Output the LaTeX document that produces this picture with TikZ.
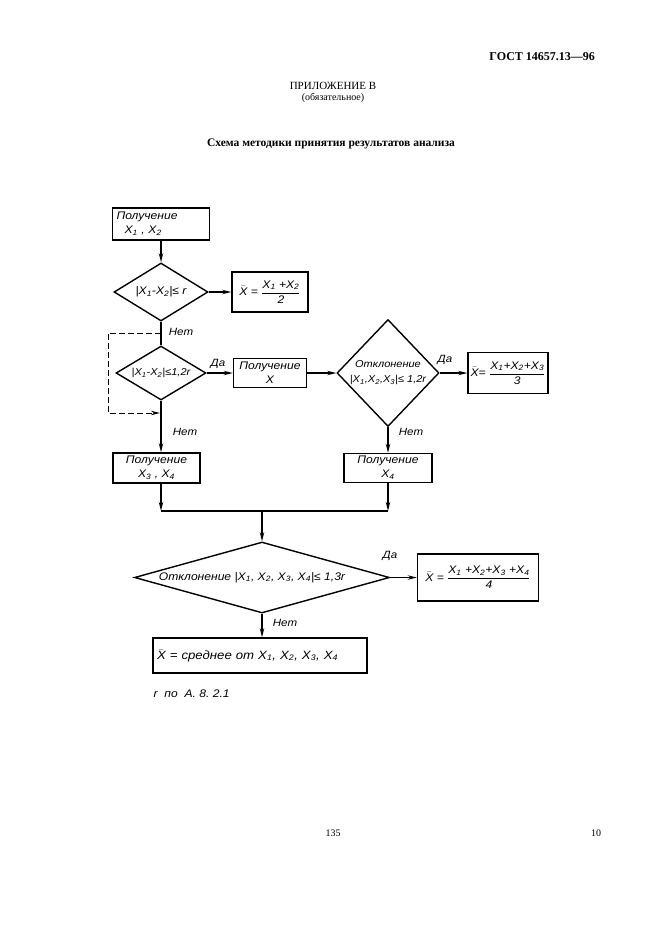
\documentclass[tikz,border=0pt]{standalone}
\usepackage{fontspec}
\setmainfont{Liberation Serif}
\newfontfamily\gost[FakeStretch=1.1]{Liberation Sans}
\usetikzlibrary{shapes.geometric,arrows.meta}
\newcommand{\xb}{$\bar{\mbox{X}}$}
\newcommand{\frc}[2]{$\displaystyle\frac{\mbox{#1}}{\mbox{#2}}$}
\newcommand{\dt}[1]{\makebox[0pt]{#1}}
\newcommand{\X}[1]{X\textsubscript{#1}}

\begin{document}
\begin{tikzpicture}[x=1pt,y=-1pt,line width=1.4pt,>={Stealth[length=9pt,width=4.4pt]},
  blk/.style={draw,inner sep=2pt,align=center,font={\gost\itshape\fontsize{11}{14}\selectfont}},
  dia/.style={draw,diamond,inner sep=0pt,font={\gost\itshape\fontsize{11}{14}\selectfont}},
  lbl/.style={inner sep=1pt,font={\gost\itshape\fontsize{10.5}{12}\selectfont}}]
\useasboundingbox (0,0) rectangle (661,936);
\node[anchor=east,font={\bfseries\fontsize{12}{14}\selectfont}] (gost) at (599,57) {ГОСТ 14657.13—96};
\node[font={\fontsize{11}{13}\selectfont}] (pril) at (333,86) {ПРИЛОЖЕНИЕ В};
\node[font={\fontsize{10}{12}\selectfont}] (obyaz) at (333,98) {(обязательное)};
\node[font={\bfseries\fontsize{11.5}{13}\selectfont}] (title) at (331,144) {Схема методики принятия результатов анализа};
\node[blk,minimum width=97,minimum height=32,text width=89,align=left] (b1) at (161,224) {Получение\\\hspace*{8pt}\X{1} , \X{2}};
\node[dia,minimum width=94,minimum height=58] (d1) at (161,292) {\dt{|\X{1}-\X{2}|≤ r}};
\node[blk,minimum width=76,minimum height=40] (b2) at (270,292) {\xb{} = \frc{\X{1} +\X{2}}{2}};
\node[dia,minimum width=90,minimum height=54,font={\gost\itshape\fontsize{10}{12}\selectfont}] (d2) at (161,373) {\dt{|\X{1}-\X{2}|≤1,2r}};
\node[blk,minimum width=73,minimum height=29] (b3) at (270,373) {Получение\\X};
\node[dia,minimum width=102,minimum height=107,font={\gost\itshape\fontsize{10}{12}\selectfont}] (d3) at (388,373) {\dt{\begin{tabular}{@{}c@{}}Отклонение\\[3pt]|\X{1},\X{2},\X{3}|≤ 1,2r\end{tabular}}};
\node[blk,minimum width=80,minimum height=41] (b4) at (508,373) {\xb{}= \frc{\X{1}+\X{2}+\X{3}}{3}};
\node[blk,minimum width=87,minimum height=30] (b6) at (156.5,468) {Получение\\\X{3} , \X{4}};
\node[blk,minimum width=88,minimum height=29] (b5) at (388,468) {Получение\\\X{4}};
\node[dia,minimum width=255,minimum height=71] (d4) at (262,577.5) {\dt{\kern-20pt Отклонение |\X{1}, \X{2}, \X{3}, \X{4}|≤ 1,3r}};
\node[blk,minimum width=121,minimum height=47] (b7) at (478,577.5) {\xb{} = \frc{\X{1} +\X{2}+\X{3} +\X{4}}{4}};
\node[blk,minimum width=214,minimum height=35,text width=206,align=left,font={\gost\itshape\fontsize{12}{14}\selectfont}] (b8) at (260,655.5) {\xb{} = среднее от \X{1}, \X{2}, \X{3}, \X{4}};
\node[lbl,anchor=west,font={\gost\itshape\fontsize{11}{13}\selectfont}] (note) at (152,694) {r~~по~~А.~8.~2.1};
\node[font={\fontsize{10}{12}\selectfont}] (pg) at (333,833) {135};
\node[font={\fontsize{10}{12}\selectfont}] (sh) at (596,833) {10};
\coordinate (split) at (161,333);
\coordinate (merge) at (160,413);
\coordinate (jl) at (161,511);
\coordinate (jm) at (262,511);
\coordinate (jr) at (388,511);
\draw[->] (b1) -- (d1);
\draw[->] (d1) -- (b2);
\draw (d1.south) -- (d2.north);
\node[lbl] (n1) at (181,332) {Нет};
\draw[dash pattern=on 6pt off 3pt,line width=1pt,->] (split) -- ++(-53,0) |- (merge);
\draw[->] (d2.east) -- (b3.west);
\node[lbl] (y2) at (218,364) {Да};
\draw[->] (b3.east) -- (d3.west);
\draw[->] (d3.east) -- (b4.west);
\node[lbl] (y3) at (445,360) {Да};
\draw[->] (d3.south) -- (b5.north);
\node[lbl] (n3) at (411,432) {Нет};
\draw[->] (d2.south) -- (d2.south |- b6.north);
\node[lbl] (n2) at (185,432) {Нет};
\draw[->] (b6.south -| jl) -- (jl);
\draw[->] (b5.south) -- (jr);
\draw (jl) -- (jr);
\draw[->] (jm) -- (d4.north);
\draw[->] (d4.east) -- (b7.west);
\node[lbl] (y4) at (390,556) {Да};
\draw[->] (d4.south) -- (d4.south |- b8.north);
\node[lbl] (n4) at (285,623) {Нет};
\end{tikzpicture}
\end{document}
